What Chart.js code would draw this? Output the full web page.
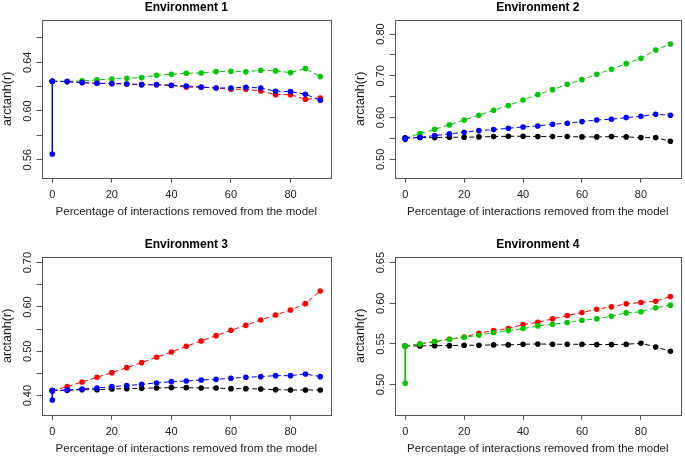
<!DOCTYPE html>
<html>
<head>
<meta charset="utf-8">
<script src="https://cdn.jsdelivr.net/npm/chart.js@4.4.1/dist/chart.umd.min.js"></script>
<style>
  body { margin: 0; background: #fff; }
  #wrap { position: relative; width: 685px; height: 457px; }
  canvas { position: absolute; }
</style>
</head>
<body>
<div id="wrap">
  <canvas id="env1" width="342" height="228" style="left:0;top:0"></canvas>
  <canvas id="env2" width="343" height="228" style="left:342px;top:0"></canvas>
  <canvas id="env3" width="342" height="229" style="left:0;top:228px"></canvas>
  <canvas id="env4" width="343" height="229" style="left:342px;top:228px"></canvas>
</div>
<script>
// percentage of interactions removed
const xPct = [0, 5, 10, 15, 20, 25, 30, 35, 40, 45, 50, 55, 60, 65, 70, 75, 80, 85, 90];
const xTicks = [0, 20, 40, 60, 80];

// Environment 1
const env1Green = [0.6244, 0.6244, 0.6247, 0.6255, 0.6263, 0.6268, 0.6274, 0.6293, 0.6301, 0.6310, 0.6312, 0.6323, 0.6326, 0.6321, 0.6334, 0.6329, 0.6315, 0.6348, 0.6282];
const env1Red = [0.6244, 0.6241, 0.6233, 0.6227, 0.6224, 0.6221, 0.6216, 0.6215, 0.6210, 0.6196, 0.6195, 0.6189, 0.6178, 0.6178, 0.6164, 0.6134, 0.6134, 0.6096, 0.6107];
const env1Blue = [0.6244, 0.6241, 0.6233, 0.6227, 0.6225, 0.6222, 0.6216, 0.6216, 0.6211, 0.6205, 0.6197, 0.6189, 0.6189, 0.6195, 0.6189, 0.6162, 0.6159, 0.6137, 0.6088];
const env1BlueStart = 0.5647;
const env1YTicks = [0.56, 0.58, 0.60, 0.62, 0.64, 0.66];
const env1YLabels = ['0.56', '', '0.60', '', '0.64', ''];

// Environment 2
const env2Green = [0.5510, 0.5618, 0.5721, 0.5825, 0.5944, 0.6056, 0.6175, 0.6287, 0.6422, 0.6550, 0.6669, 0.6797, 0.6908, 0.7036, 0.7155, 0.7291, 0.7418, 0.7618, 0.7761];
const env2Blue = [0.5510, 0.5530, 0.5570, 0.5610, 0.5649, 0.5689, 0.5713, 0.5745, 0.5777, 0.5801, 0.5841, 0.5865, 0.5904, 0.5944, 0.5960, 0.6000, 0.6032, 0.6080, 0.6056];
const env2Black = [0.5510, 0.5522, 0.5522, 0.5530, 0.5530, 0.5538, 0.5546, 0.5554, 0.5554, 0.5546, 0.5546, 0.5546, 0.5538, 0.5538, 0.5546, 0.5538, 0.5522, 0.5522, 0.5434];
const env2BlueStart = 0.5480;
const env2YTicks = [0.50, 0.55, 0.60, 0.65, 0.70, 0.75, 0.80];
const env2YLabels = ['0.50', '', '0.60', '', '0.70', '', '0.80'];

// Environment 3
const env3Red = [0.4113, 0.4203, 0.4308, 0.4414, 0.4519, 0.4632, 0.4744, 0.4865, 0.4985, 0.5113, 0.5233, 0.5353, 0.5474, 0.5586, 0.5707, 0.5820, 0.5932, 0.6075, 0.6361];
const env3Blue = [0.4113, 0.4128, 0.4150, 0.4173, 0.4203, 0.4226, 0.4256, 0.4286, 0.4316, 0.4331, 0.4353, 0.4368, 0.4391, 0.4414, 0.4429, 0.4451, 0.4451, 0.4489, 0.4429];
const env3Black = [0.4113, 0.4120, 0.4135, 0.4135, 0.4150, 0.4158, 0.4165, 0.4173, 0.4180, 0.4180, 0.4173, 0.4173, 0.4158, 0.4158, 0.4150, 0.4135, 0.4128, 0.4128, 0.4128];
const env3BlueStart = 0.3902;
const env3YTicks = [0.40, 0.45, 0.50, 0.55, 0.60, 0.65, 0.70];
const env3YLabels = ['0.40', '', '0.50', '', '0.60', '', '0.70'];

// Environment 4
const env4Green = [0.5475, 0.5500, 0.5529, 0.5558, 0.5582, 0.5607, 0.5640, 0.5664, 0.5689, 0.5722, 0.5742, 0.5763, 0.5792, 0.5808, 0.5841, 0.5882, 0.5895, 0.5944, 0.5977];
const env4Red = [0.5475, 0.5500, 0.5529, 0.5558, 0.5586, 0.5632, 0.5664, 0.5689, 0.5738, 0.5767, 0.5808, 0.5849, 0.5886, 0.5927, 0.5956, 0.5993, 0.6010, 0.6026, 0.6084];
const env4Black = [0.5475, 0.5475, 0.5479, 0.5479, 0.5484, 0.5484, 0.5488, 0.5488, 0.5496, 0.5500, 0.5496, 0.5496, 0.5496, 0.5492, 0.5492, 0.5496, 0.5508, 0.5463, 0.5410];
const env4GreenStart = 0.5015;
const env4YTicks = [0.50, 0.55, 0.60, 0.65];
const env4YLabels = ['0.50', '0.55', '0.60', '0.65'];

const GREEN = '#00c800', RED = '#ff0000', BLUE = '#0000ff', BLACK = '#000000';

function pts(ys) {
  return xPct.map((x, i) => ({ x: x, y: ys[i] }));
}

function dashed(color, ys) {
  return {
    data: pts(ys), showLine: true,
    borderColor: color, borderWidth: 1, borderDash: [5, 3],
    pointRadius: 2.8, pointBorderWidth: 0, pointBackgroundColor: color
  };
}

// solid segment from the shared start down to the original model value
function drop(color, from, to) {
  return {
    data: [{ x: 0, y: from }, { x: 0, y: to }], showLine: true,
    borderColor: color, borderWidth: 1,
    pointRadius: 2.8, pointBorderWidth: 0, pointBackgroundColor: color
  };
}

const boxPlugin = {
  id: 'box',
  afterDraw(chart) {
    const a = chart.chartArea, ctx = chart.ctx;
    ctx.save();
    ctx.strokeStyle = '#555';
    ctx.lineWidth = 1;
    ctx.strokeRect(Math.round(a.left) + 0.5, Math.round(a.top) + 0.5,
      Math.round(a.right - a.left), Math.round(a.bottom - a.top));
    ctx.restore();
  }
};

function makePanel(id, title, datasets, yMin, yMax, yTicks, yLabels, area) {
  const canvas = document.getElementById(id);
  const H = canvas.height;
  new Chart(canvas, {
    type: 'scatter',
    data: { datasets: datasets },
    options: {
      responsive: false,
      animation: false,
      devicePixelRatio: 1,
      layout: { padding: { top: area.top - 19, right: canvas.width - area.right, left: 0, bottom: 0 } },
      plugins: {
        legend: { display: false },
        tooltip: { enabled: false },
        title: {
          display: true, text: title, fullSize: false, color: '#000',
          font: { family: 'Liberation Sans', size: 12, weight: 'bold', lineHeight: 1.2 },
          padding: { top: 0, bottom: 4.6 }
        }
      },
      scales: {
        x: {
          type: 'linear', min: -3.6, max: 93.6,
          afterBuildTicks: s => { s.ticks = xTicks.map(v => ({ value: v })); },
          afterFit: s => { s.height = H - area.bottom; },
          grid: { drawOnChartArea: false, drawTicks: true, tickLength: 5, color: '#555' },
          border: { display: false },
          ticks: { font: { family: 'Liberation Sans', size: 11 }, color: '#222', padding: 5.5, maxRotation: 0, autoSkip: false },
          title: {
            display: true, text: 'Percentage of interactions removed from the model', color: '#222',
            font: { family: 'Liberation Sans', size: 11.5, lineHeight: 1.2 },
            padding: { top: 0, bottom: H - area.bottom - 34.5 - 6.9 }
          }
        },
        y: {
          type: 'linear', min: yMin, max: yMax,
          afterBuildTicks: s => { s.ticks = yTicks.map(v => ({ value: v })); },
          afterFit: s => { s.width = area.left; },
          grid: { drawOnChartArea: false, drawTicks: true, tickLength: 5, color: '#555' },
          border: { display: false },
          ticks: {
            font: { family: 'Liberation Sans', size: 11 }, color: '#222',
            minRotation: 90, maxRotation: 90, crossAlign: 'center', padding: -2.4, autoSkip: false,
            callback: (v, i) => yLabels[i]
          },
          title: {
            display: true, text: 'arctanh(r)', color: '#222',
            font: { family: 'Liberation Sans', size: 12.5, lineHeight: 1.2 },
            padding: { top: area.left - 34 - 7.5, bottom: 0 }
          }
        }
      }
    },
    plugins: [boxPlugin]
  });
}

makePanel('env1', 'Environment 1',
  [drop(BLUE, env1Blue[0], env1BlueStart), dashed(BLUE, env1Blue), dashed(RED, env1Red), dashed(GREEN, env1Green)],
  0.5452, 0.6748, env1YTicks, env1YLabels,
  { left: 41.6, right: 331, top: 19.8, bottom: 177.8 });

makePanel('env2', 'Environment 2',
  [drop(BLUE, env2Blue[0], env2BlueStart), dashed(BLUE, env2Blue), dashed(BLACK, env2Black), dashed(GREEN, env2Green)],
  0.456, 0.834, env2YTicks, env2YLabels,
  { left: 52.6, right: 342.2, top: 19.8, bottom: 177.8 });

makePanel('env3', 'Environment 3',
  [drop(BLUE, env3Blue[0], env3BlueStart), dashed(BLUE, env3Blue), dashed(BLACK, env3Black), dashed(RED, env3Red)],
  0.3568, 0.7132, env3YTicks, env3YLabels,
  { left: 41.6, right: 331, top: 28.8, bottom: 186.8 });

makePanel('env4', 'Environment 4',
  [drop(GREEN, env4Green[0], env4GreenStart), dashed(GREEN, env4Green), dashed(RED, env4Red), dashed(BLACK, env4Black)],
  0.4628, 0.6572, env4YTicks, env4YLabels,
  { left: 52.6, right: 342.2, top: 28.8, bottom: 186.8 });
</script>
</body>
</html>
